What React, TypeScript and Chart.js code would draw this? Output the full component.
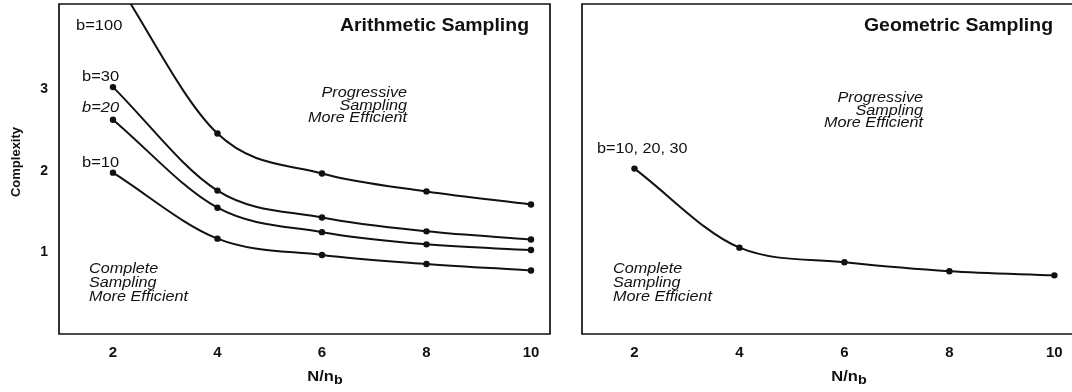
import { useEffect, useRef } from "react";
import { Chart, registerables } from "chart.js";

Chart.register(...registerables);

// ---- data ----
const xValues = [2, 4, 6, 8, 10];
const xTickValues = [2, 4, 6, 8, 10];
const yTickValues = [1, 2, 3];
const arithB10 = [1.98, 1.17, 0.97, 0.86, 0.78];
const arithB20 = [2.63, 1.55, 1.25, 1.1, 1.03];
const arithB30 = [3.03, 1.76, 1.43, 1.26, 1.16];
const arithB100 = [4.4, 2.46, 1.97, 1.75, 1.59];
const geomB = [2.03, 1.06, 0.88, 0.77, 0.72];

const FAMILY = "'Liberation Sans', Arial, Helvetica, sans-serif";
const INK = "#111";

type Ann = {
  text: string;
  x: number;
  y: number;
  font: string;
  align: "left" | "right" | "center";
  sx: number;
  rotate?: boolean;
};

function drawText(ctx: CanvasRenderingContext2D, a: Ann) {
  ctx.save();
  ctx.font = a.font;
  ctx.fillStyle = INK;
  ctx.textBaseline = "alphabetic";
  ctx.textAlign = "left";
  const w = ctx.measureText(a.text).width * a.sx;
  let off = 0;
  if (a.align === "right") off = -w;
  else if (a.align === "center") off = -w / 2;
  ctx.translate(a.x, a.y);
  if (a.rotate) ctx.rotate(-Math.PI / 2);
  ctx.translate(off, 0);
  ctx.scale(a.sx, 1);
  ctx.fillText(a.text, 0, 0);
  ctx.restore();
}

function makeDecor(anns: Ann[], offsetX: number, drawRight: boolean, titleCenter: number) {
  return {
    id: "decor",
    afterDatasetsDraw(chart: any) {
      const ctx: CanvasRenderingContext2D = chart.ctx;
      const { left, right, top, bottom } = chart.chartArea;
      ctx.save();
      ctx.strokeStyle = INK;
      ctx.lineWidth = 1.7;
      ctx.beginPath();
      if (drawRight) {
        ctx.moveTo(right, top);
        ctx.lineTo(left, top);
        ctx.lineTo(left, bottom);
        ctx.lineTo(right, bottom);
        ctx.closePath();
      } else {
        ctx.moveTo(right + 4, top);
        ctx.lineTo(left, top);
        ctx.lineTo(left, bottom);
        ctx.lineTo(right + 4, bottom);
      }
      ctx.stroke();
      ctx.restore();
      anns.forEach((a) => drawText(ctx, { ...a, x: a.x - offsetX }));
      // x axis title N/n_b
      ctx.save();
      const sx = 1.1;
      ctx.font = `bold 15px ${FAMILY}`;
      const w1 = ctx.measureText("N/n").width * sx;
      ctx.font = `bold 13px ${FAMILY}`;
      const w2 = ctx.measureText("b").width * sx;
      const x0 = titleCenter - offsetX - (w1 + w2) / 2;
      ctx.restore();
      drawText(ctx, { text: "N/n", x: x0, y: 381, font: `bold 15px ${FAMILY}`, align: "left", sx });
      drawText(ctx, { text: "b", x: x0 + w1, y: 384, font: `bold 13px ${FAMILY}`, align: "left", sx });
    },
  };
}

function lineSet(values: number[], radii?: number[]) {
  return {
    data: xValues.map((x, i) => ({ x, y: values[i] })),
    borderColor: INK,
    backgroundColor: INK,
    borderWidth: 2,
    pointRadius: radii ?? 3.2,
    pointBorderWidth: 0,
    pointBackgroundColor: INK,
    cubicInterpolationMode: "monotone" as const,
    fill: false,
  };
}

function makeOptions(xmin: number, xmax: number, showY: boolean, yWidth: number, padRight: number) {
  return {
    responsive: false,
    animation: false as const,
    events: [],
    layout: { padding: { top: 3, right: padRight, left: 0, bottom: 0 } },
    plugins: { legend: { display: false }, tooltip: { enabled: false } },
    scales: {
      x: {
        type: "linear" as const,
        min: xmin,
        max: xmax,
        grid: { display: false, drawTicks: false },
        border: { display: false },
        ticks: { font: { family: FAMILY, size: 15, weight: "bold" as const }, color: INK, padding: 10 },
        afterBuildTicks: (s: any) => {
          s.ticks = xTickValues.map((v) => ({ value: v }));
        },
        afterFit: (s: any) => {
          s.height = 58;
          s.paddingLeft = 0;
          s.paddingRight = 0;
        },
      },
      y: {
        type: "linear" as const,
        min: 0,
        max: 4.05,
        grid: { display: false, drawTicks: false },
        border: { display: false },
        ticks: {
          display: showY,
          font: { family: FAMILY, size: 14, weight: "bold" as const },
          color: INK,
          padding: 11,
        },
        afterBuildTicks: (s: any) => {
          s.ticks = yTickValues.map((v) => ({ value: v }));
        },
        afterFit: (s: any) => {
          s.width = yWidth;
          s.paddingTop = 0;
          s.paddingBottom = 0;
        },
      },
    },
  };
}

const ITAL = `italic 15px ${FAMILY}`;
const REG = `15px ${FAMILY}`;
const TITLE = `bold 18px ${FAMILY}`;

const leftAnns: Ann[] = [
  { text: "Complexity", x: 20, y: 162, font: `bold 13px ${FAMILY}`, align: "center", sx: 1.0, rotate: true },
  { text: "Arithmetic Sampling", x: 529, y: 31, font: TITLE, align: "right", sx: 1.08 },
  { text: "b=100", x: 76, y: 30, font: REG, align: "left", sx: 1.1 },
  { text: "b=30", x: 82, y: 81, font: REG, align: "left", sx: 1.1 },
  { text: "b=20", x: 82, y: 112, font: ITAL, align: "left", sx: 1.1 },
  { text: "b=10", x: 82, y: 167, font: REG, align: "left", sx: 1.1 },
  { text: "Progressive", x: 407, y: 97, font: ITAL, align: "right", sx: 1.08 },
  { text: "Sampling", x: 407, y: 109.5, font: ITAL, align: "right", sx: 1.08 },
  { text: "More Efficient", x: 407, y: 122, font: ITAL, align: "right", sx: 1.08 },
  { text: "Complete", x: 89, y: 273, font: ITAL, align: "left", sx: 1.08 },
  { text: "Sampling", x: 89, y: 287, font: ITAL, align: "left", sx: 1.08 },
  { text: "More Efficient", x: 89, y: 301, font: ITAL, align: "left", sx: 1.08 },
];

const rightAnns: Ann[] = [
  { text: "Geometric Sampling", x: 1053, y: 31, font: TITLE, align: "right", sx: 1.08 },
  { text: "b=10, 20, 30", x: 597, y: 153, font: REG, align: "left", sx: 1.08 },
  { text: "Progressive", x: 923, y: 102, font: ITAL, align: "right", sx: 1.08 },
  { text: "Sampling", x: 923, y: 114.5, font: ITAL, align: "right", sx: 1.08 },
  { text: "More Efficient", x: 923, y: 127, font: ITAL, align: "right", sx: 1.08 },
  { text: "Complete", x: 613, y: 273, font: ITAL, align: "left", sx: 1.08 },
  { text: "Sampling", x: 613, y: 287, font: ITAL, align: "left", sx: 1.08 },
  { text: "More Efficient", x: 613, y: 301, font: ITAL, align: "left", sx: 1.08 },
];

export default function App() {
  const leftRef = useRef<HTMLCanvasElement | null>(null);
  const rightRef = useRef<HTMLCanvasElement | null>(null);

  useEffect(() => {
    const left = new Chart(leftRef.current!, {
      type: "line",
      data: {
        datasets: [
          lineSet(arithB100, [0, 3.2, 3.2, 3.2, 3.2]),
          lineSet(arithB30),
          lineSet(arithB20),
          lineSet(arithB10),
        ],
      },
      options: makeOptions(0.967, 10.364, true, 59, 10) as any,
      plugins: [makeDecor(leftAnns, 0, true, 325)],
    });
    const right = new Chart(rightRef.current!, {
      type: "line",
      data: { datasets: [lineSet(geomB)] },
      options: makeOptions(1.0, 10.26, false, 22, 0) as any,
      plugins: [makeDecor(rightAnns, 560, false, 849)],
    });
    return () => {
      left.destroy();
      right.destroy();
    };
  }, []);

  return (
    <div style={{ position: "fixed", left: 0, top: 0, width: 1072, height: 392, background: "#fff", overflow: "hidden" }}>
      <canvas ref={leftRef} width={560} height={392} style={{ position: "absolute", left: 0, top: 0, width: 560, height: 392 }} />
      <canvas ref={rightRef} width={512} height={392} style={{ position: "absolute", left: 560, top: 0, width: 512, height: 392 }} />
    </div>
  );
}
